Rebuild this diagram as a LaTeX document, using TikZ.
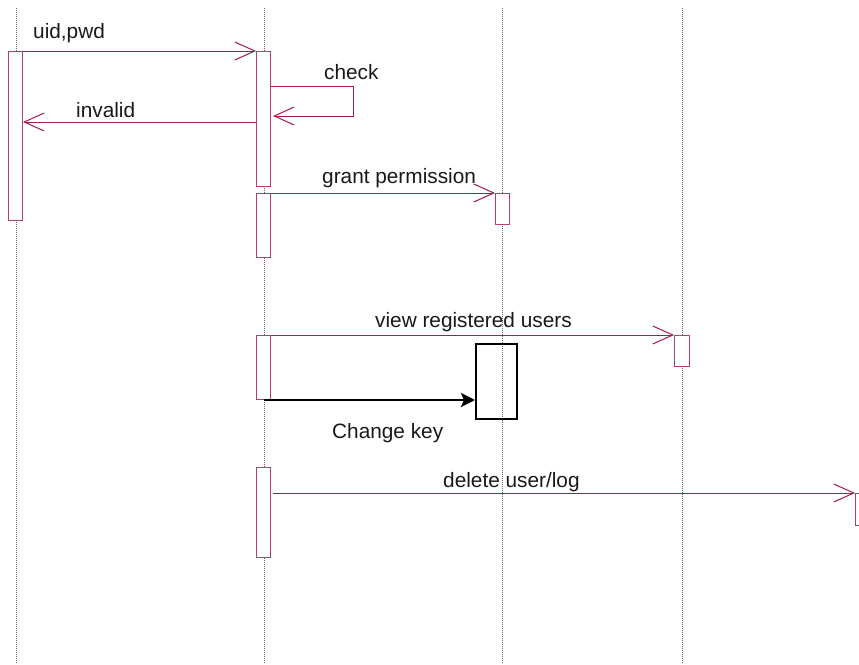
\documentclass[tikz,border=0pt]{standalone}
\usepackage{fontspec}
\setmainfont{Liberation Sans}
\usetikzlibrary{arrows.meta}
\definecolor{msgc}{RGB}{165,25,75}
\definecolor{boxc}{RGB}{185,60,100}
\tikzset{
  life/.style={draw=gray!80!black, line width=0.6pt, dash pattern=on 1pt off 1pt},
  act/.style={draw=boxc, fill=white, line width=1pt, rectangle, inner sep=0pt, anchor=north west},
  msg/.style={draw=msgc, line width=1pt, -{Straight Barb[length=20pt,width=18pt,line width=1pt]}},
  lbl/.style={font=\fontsize{20.8}{24}\selectfont, anchor=base west, inner sep=0pt, text=black!90},
  keyarrow/.style={draw=black, line width=2.8pt, -{Stealth[length=14pt,width=14pt,inset=3pt]}},
}
\begin{document}
\begin{tikzpicture}[x=1pt,y=-1pt]
\useasboundingbox (0,0) rectangle (859,664);
% lifelines
\coordinate (l1t) at (16,8);  \coordinate (l1b) at (16,664);
\coordinate (l2t) at (264,8); \coordinate (l2b) at (264,664);
\coordinate (l3t) at (502,8); \coordinate (l3b) at (502,664);
\coordinate (l4t) at (682,8); \coordinate (l4b) at (682,664);
\draw[life] (l1t) -- (l1b);
\draw[life] (l2t) -- (l2b);
\draw[life] (l3t) -- (l3b);
\draw[life] (l4t) -- (l4b);
% activations
\node[act, minimum width=14pt, minimum height=169pt] (a1) at (8,51) {};
\node[act, minimum width=14pt, minimum height=135pt] (b1) at (256,51) {};
\node[act, minimum width=14pt, minimum height=64pt] (b2) at (256,193) {};
\node[act, minimum width=14pt, minimum height=31pt] (c1) at (495,193) {};
\node[act, minimum width=14pt, minimum height=64pt] (b3) at (256,335) {};
\node[act, minimum width=15pt, minimum height=31pt] (d1) at (674,335) {};
\node[act, minimum width=14pt, minimum height=90pt] (b4) at (256,467) {};
\node[draw=black, line width=1.6pt, rectangle, inner sep=0pt, anchor=north west, minimum width=41pt, minimum height=75pt] (k) at (475,343) {};
\coordinate (e1) at (855,493);
\draw[draw=boxc, line width=1pt] (864,493) -- (e1) -- (855,525) -- (864,525);
% messages
\draw[msg] (a1.north east) -- (b1.north west);
\node[lbl] (t1) at (33,38) {uid,pwd};
\coordinate (ck1) at (353,86);
\coordinate (ck2) at (353,116);
\draw[msg] (b1.east |- ck1) -- (ck1) -- (ck2) -- ([xshift=2pt]b1.east |- ck2);
\node[lbl] (t2) at (324,79) {check};
\draw[msg] (b1.west |- 0,122) -- (a1.east |- 0,122);
\node[lbl] (t3) at (76,117) {invalid};
\draw[msg] (b2.north east) -- (c1.north west);
\node[lbl] (t4) at (322,183) {grant permission};
\draw[msg] (b3.north east) -- (d1.north west);
\node[lbl] (t5) at (375,327) {view registered users};
\draw[keyarrow] (b3.south) -- (k.west |- b3.south);
\node[lbl] (t6) at (332,438) {Change key};
\draw[msg] ([xshift=2pt]b4.east |- e1) -- (e1);
\node[lbl] (t7) at (443,487) {delete user/log};
\end{tikzpicture}
\end{document}
